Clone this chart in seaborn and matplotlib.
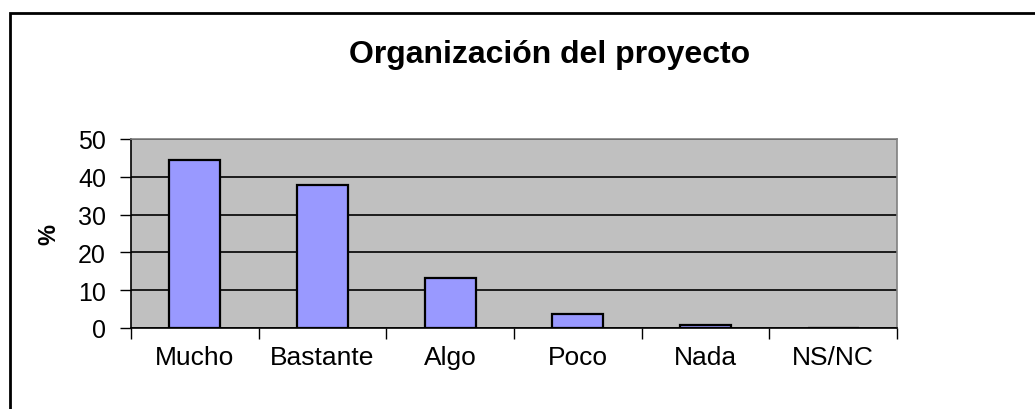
import matplotlib
matplotlib.use("Agg")
import numpy as np
import pandas as pd
import seaborn as sns
import matplotlib.pyplot as plt
from matplotlib.patches import Rectangle

# --------------------------------------------------
# DATA
# --------------------------------------------------

categories = ["Mucho", "Bastante", "Algo", "Poco", "Nada", "NS/NC"]
percent = [44.5, 37.8, 13.3, 3.6, 0.9, 0.0]
yticks = [0, 10, 20, 30, 40, 50]

df = pd.DataFrame({"categoria": categories, "porcentaje": percent})

# --------------------------------------------------
# STYLE
# --------------------------------------------------

sns.set_style("white")
plt.rcParams["font.family"] = ["Liberation Sans", "DejaVu Sans"]
plt.rcParams["text.color"] = "black"
plt.rcParams["axes.labelcolor"] = "black"
plt.rcParams["xtick.color"] = "black"
plt.rcParams["ytick.color"] = "black"

fig = plt.figure(figsize=(10.35, 4.1), dpi=100)
ax = fig.add_axes([0.1266, 0.1976, 0.74, 0.461])

# outer chart frame (only top and left edges visible)
fig.patches.append(Rectangle((10 / 1035, -0.1), 1.2, 1 - 14 / 410 + 0.1,
                             transform=fig.transFigure, fill=False,
                             edgecolor="black", linewidth=2, zorder=0))

sns.barplot(data=df, x="categoria", y="porcentaje", color="#9999FF",
            saturation=1, width=0.4, edgecolor="black", linewidth=1.6,
            ax=ax, zorder=3)

ax.set_facecolor("#C0C0C0")
ax.set_xlim(-0.5, len(categories) - 0.5)
ax.set_ylim(0, 50)
ax.set_yticks(yticks)
ax.yaxis.grid(True, color="black", linewidth=1.2, zorder=1)
ax.set_axisbelow(True)

# category boundary ticks on x axis
ax.set_xticks(np.arange(-0.5, len(categories), 1.0), minor=True)
ax.tick_params(axis="x", which="major", length=0, pad=12, labelsize=19)
ax.tick_params(axis="x", which="minor", length=8, width=1, color="black",
               direction="out", bottom=True)
ax.tick_params(axis="y", which="major", length=8, width=1, color="black",
               direction="out", left=True, labelsize=18, pad=10)

for side in ["top", "right"]:
    ax.spines[side].set_color("#808080")
    ax.spines[side].set_linewidth(1.2)
for side in ["left", "bottom"]:
    ax.spines[side].set_color("black")
    ax.spines[side].set_linewidth(1.2)

ax.set_xlabel("")
ax.set_ylabel("%", fontsize=17, fontweight="bold", labelpad=13)
fig.text(0.531, 0.866, "Organización del proyecto", ha="center", va="center",
         fontsize=23, fontweight="bold")

fig.savefig("out.png", dpi=100)
